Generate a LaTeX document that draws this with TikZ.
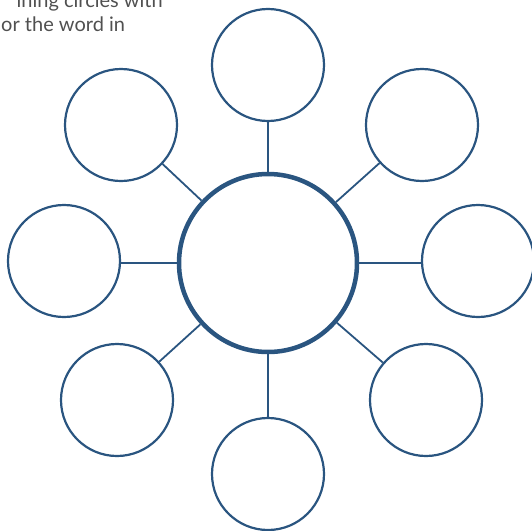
\documentclass[tikz,border=0pt]{standalone}
\usepackage{fontspec}
\setmainfont{Lato}
\definecolor{webblue}{RGB}{42,85,128}
\definecolor{txtgray}{RGB}{80,80,80}
\tikzset{
  outer/.style={circle, draw=webblue, line width=2.2pt, minimum size=112pt, inner sep=0pt},
  hub/.style={circle, draw=webblue, line width=4.5pt, minimum size=178pt, inner sep=0pt},
  link/.style={draw=webblue, line width=1.8pt},
  caption/.style={text=txtgray, font=\fontsize{20}{24}\selectfont, inner sep=0pt}
}
\begin{document}
\begin{tikzpicture}[x=1pt, y=-1pt]
\clip (0,0) rectangle (532,530);
\useasboundingbox (0,0) rectangle (532,530);
\node[caption, anchor=base east] (t1) at (163,8) {ining circles with};
\node[caption, anchor=base west] (t2) at (1,31) {or the word in};
\node[hub] (c) at (268,263) {};
\node[outer] (n) at (268,65) {};
\node[outer] (nw) at (121,125) {};
\node[outer] (ne) at (422,125) {};
\node[outer] (w) at (64,261) {};
\node[outer] (e) at (478,261) {};
\node[outer] (sw) at (117,400) {};
\node[outer] (se) at (426,400) {};
\node[outer] (s) at (268,474) {};
\draw[link] (c) -- (n);
\draw[link] (c) -- (nw);
\draw[link] (c) -- (ne);
\draw[link] (c.west) -- (c.west -| w.east);
\draw[link] (c.east) -- (c.east -| e.west);
\draw[link] (c) -- (sw);
\draw[link] (c) -- (se);
\draw[link] (c) -- (s);
\end{tikzpicture}
\end{document}
